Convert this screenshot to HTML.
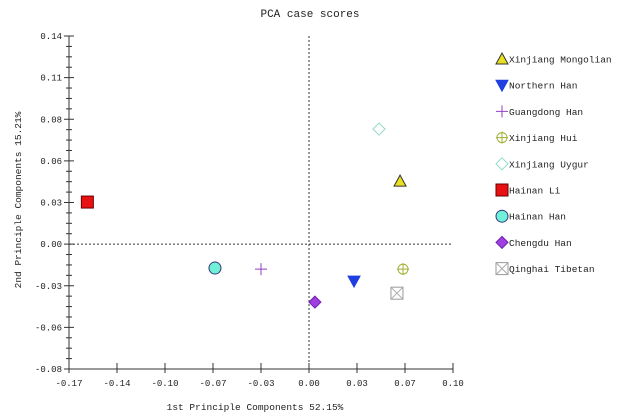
<!DOCTYPE html>
<html><head><meta charset="utf-8"><style>
body{margin:0;background:#fff}
svg{display:block;font-family:"Liberation Mono","Noto Sans CJK SC",monospace;}
</style></head><body>
<svg id="chart" width="627" height="418" viewBox="0 0 627 418" xmlns="http://www.w3.org/2000/svg">
<text x="310" y="17" font-size="11" text-anchor="middle" fill="#222">PCA case scores</text>
<text x="255" y="410" font-size="9.5" text-anchor="middle" fill="#222">1st Principle Components 52.15%</text>
<text transform="translate(21,200) rotate(-90)" font-size="9.5" text-anchor="middle" fill="#222">2nd Principle Components 15.21%</text>
<g id="axes"></g><g id="marks"></g><g id="legend"></g>
</svg>
<script>
const xTicks=[-0.17,-0.136,-0.102,-0.068,-0.034,0,0.034,0.068,0.102];
const xTickLabels=["-0.17","-0.14","-0.10","-0.07","-0.03","0.00","0.03","0.07","0.10"];
const yTicks=[-0.084,-0.056,-0.028,0,0.028,0.056,0.084,0.112,0.14];
const yTickLabels=["-0.08","-0.06","-0.03","0.00","0.03","0.06","0.08","0.11","0.14"];
const groups=["Xinjiang Mongolian","Northern Han","Guangdong Han","Xinjiang Hui","Xinjiang Uygur","Hainan Li","Hainan Han","Chengdu Han","Qinghai Tibetan"];
const pc1=[0.0645,0.0319,-0.034,0.0666,0.0496,-0.157,-0.0666,0.0042,0.0623];
const pc2=[0.0424,-0.0249,-0.0168,-0.0168,0.0774,0.0283,-0.0161,-0.039,-0.033];
const symbols=["tri-up","tri-down","plus","circle-plus","diamond-open","square","circle","diamond","square-x"];

const NS="http://www.w3.org/2000/svg";
const X0=69,X1=453,Y0=369,Y1=36;
const xS=v=>X0+(v-xTicks[0])/(xTicks[xTicks.length-1]-xTicks[0])*(X1-X0);
const yS=v=>Y0-(v-yTicks[0])/(yTicks[yTicks.length-1]-yTicks[0])*(Y0-Y1);
function mk(tag,attrs,parent){const e=document.createElementNS(NS,tag);for(const k in attrs)e.setAttribute(k,attrs[k]);parent.appendChild(e);return e;}
const axes=document.getElementById('axes'),marks=document.getElementById('marks'),legend=document.getElementById('legend');
let e;
e=mk('line',{x1:X0,y1:Y0,x2:X1,y2:Y0,stroke:'#333'},axes);


e=mk('line',{x1:X0,y1:Y0,x2:X0,y2:Y1,stroke:'#333'},axes);


e=mk('line',{x1:X0,y1:yS(0),x2:X1,y2:yS(0),stroke:'#333','stroke-dasharray':'2,2'},axes);


e=mk('line',{x1:xS(0),y1:Y1,x2:xS(0),y2:Y0,stroke:'#333','stroke-dasharray':'2,2'},axes);


xTicks.forEach((v,i)=>{const x=xS(v);
 mk('line',{x1:x,y1:Y0-6,x2:x,y2:Y0+4,stroke:'#333'},axes);
 e=mk('text',{x:x,y:Y0+17,'font-size':9,'text-anchor':'middle',fill:'#222'},axes);e.textContent=xTickLabels[i];
 
 
});
yTicks.forEach((v,i)=>{const y=yS(v);
 mk('line',{x1:X0-5,y1:y,x2:X0+5,y2:y,stroke:'#333'},axes);
 if(i<yTicks.length-1){const ym=yS((v+yTicks[i+1])/2);mk('line',{x1:X0-3,y1:ym,x2:X0+3,y2:ym,stroke:'#333'},axes);
  const q1=yS(v+(yTicks[i+1]-v)/4),q3=yS(v+3*(yTicks[i+1]-v)/4);
  mk('line',{x1:X0-3,y1:q1,x2:X0+3,y2:q1,stroke:'#333'},axes);mk('line',{x1:X0-3,y1:q3,x2:X0+3,y2:q3,stroke:'#333'},axes);}
 e=mk('text',{x:X0-7,y:y+3,'font-size':9,'text-anchor':'end',fill:'#222'},axes);e.textContent=yTickLabels[i];
 
 
});
function sym(t,x,y,p){const g=mk('g',{},p);
 switch(t){
 case 'tri-up':mk('polygon',{points:`${x},${y-6} ${x+6},${y+5} ${x-6},${y+5}`,fill:'#e8e020',stroke:'#333'},g);break;
 case 'tri-down':mk('polygon',{points:`${x-6},${y-5} ${x+6},${y-5} ${x},${y+6}`,fill:'#1f3fe0',stroke:'#1f3fe0'},g);break;
 case 'plus':mk('path',{d:`M${x-6},${y}H${x+6}M${x},${y-6}V${y+6}`,stroke:'#9040c0',fill:'none'},g);break;
 case 'circle-plus':mk('circle',{cx:x,cy:y,r:5,fill:'none',stroke:'#a0b030'},g);mk('path',{d:`M${x-6},${y}H${x+6}M${x},${y-6}V${y+6}`,stroke:'#a0b030',fill:'none'},g);break;
 case 'diamond-open':mk('polygon',{points:`${x},${y-6} ${x+6},${y} ${x},${y+6} ${x-6},${y}`,fill:'#fff',stroke:'#90d8c8'},g);break;
 case 'square':mk('rect',{x:x-6,y:y-6,width:12,height:12,fill:'#e81010',stroke:'#600'},g);break;
 case 'circle':mk('circle',{cx:x,cy:y,r:6,fill:'#70f0d8',stroke:'#337'},g);break;
 case 'diamond':mk('polygon',{points:`${x},${y-6} ${x+6},${y} ${x},${y+6} ${x-6},${y}`,fill:'#a040e0',stroke:'#7020b0'},g);break;
 case 'square-x':mk('rect',{x:x-6,y:y-6,width:12,height:12,fill:'#fff',stroke:'#999'},g);mk('path',{d:`M${x-6},${y-6}L${x+6},${y+6}M${x+6},${y-6}L${x-6},${y+6}`,stroke:'#aaa'},g);break;}
 return g;}
groups.forEach((n,i)=>{
 const g=sym(symbols[i],xS(pc1[i]),yS(pc2[i]),marks);
 
 
 const ly=59+i*26.2;
 const lg=mk('g',{},legend);
 
 
 sym(symbols[i],502,ly,lg);
 const t=mk('text',{x:509,y:ly+3.5,'font-size':9.5,fill:'#222'},lg);t.textContent=n;
});
</script>
</body></html>
